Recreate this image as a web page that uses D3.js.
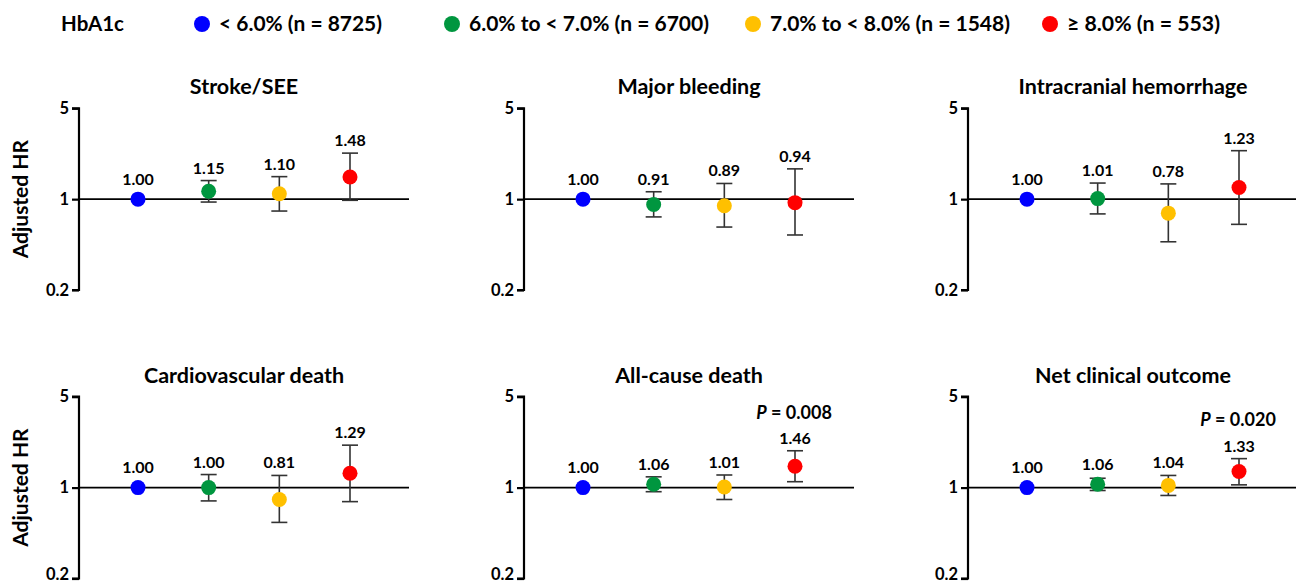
<!DOCTYPE html>
<html><head><meta charset="utf-8">
<script src="https://cdn.jsdelivr.net/npm/d3@7"></script>
<style>
body{margin:0;background:#fff;}
svg{display:block;font-family:Lato,"Open Sans",sans-serif;font-weight:700;}
</style></head>
<body><svg id="c" width="1296" height="584"></svg>
<script>
const groups = ["< 6.0% (n = 8725)", "6.0% to < 7.0% (n = 6700)", "7.0% to < 8.0% (n = 1548)", "≥ 8.0% (n = 553)"];
const colors = ["#0000FF", "#00963F", "#FFC000", "#FF0000"];
const outcomes = ["Stroke/SEE", "Major bleeding", "Intracranial hemorrhage", "Cardiovascular death", "All-cause death", "Net clinical outcome"];
const hr = [
  [1.00, 1.15, 1.10, 1.48],
  [1.00, 0.91, 0.89, 0.94],
  [1.00, 1.01, 0.78, 1.23],
  [1.00, 1.00, 0.81, 1.29],
  [1.00, 1.06, 1.01, 1.46],
  [1.00, 1.06, 1.04, 1.33]
];
const lower = [
  [null, 0.95, 0.81, 0.98],
  [null, 0.73, 0.61, 0.53],
  [null, 0.77, 0.47, 0.64],
  [null, 0.79, 0.54, 0.78],
  [null, 0.93, 0.81, 1.11],
  [null, 0.95, 0.87, 1.05]
];
const upper = [
  [null, 1.39, 1.49, 2.26],
  [null, 1.14, 1.32, 1.71],
  [null, 1.33, 1.31, 2.36],
  [null, 1.26, 1.24, 2.12],
  [null, 1.21, 1.25, 1.92],
  [null, 1.18, 1.24, 1.67]
];
const pValues = [null, null, null, null, "0.008", "0.020"];
const yTicks = [0.2, 1, 5];
const yLabel = "Adjusted HR";
const legendTitle = "HbA1c";

const svg = d3.select("#c");

// Legend
svg.append("text").attr("x", 61).attr("y", 31).attr("font-size", 20)
  .attr("textLength", 63).attr("lengthAdjust", "spacingAndGlyphs").text(legendTitle);
const legX = [202, 452, 753, 1050];
const legW = [163, 240, 240, 153];
groups.forEach((g, i) => {
  svg.append("circle").attr("cx", legX[i]).attr("cy", 24).attr("r", 8).attr("fill", colors[i]);
  svg.append("text").attr("x", legX[i] + 17).attr("y", 31).attr("font-size", 20)
    .attr("textLength", legW[i]).attr("lengthAdjust", "spacingAndGlyphs").text(g);
});

const axisXs = [79, 524, 968];
const rowTop = [108.3, 396.7];
const rowBot = [290, 578.5];

outcomes.forEach((name, p) => {
  const col = p % 3, row = Math.floor(p / 3);
  const ax = axisXs[col];
  const y = d3.scaleLog().domain([0.2, 5]).range([rowBot[row], rowTop[row]]);
  const x = d3.scalePoint().domain(groups).range([ax + 59, ax + 271]);
  const g = svg.append("g");

  // title
  g.append("text").attr("x", ax + 165).attr("y", rowTop[row] - 14).attr("text-anchor", "middle")
    .attr("font-size", 21.5).text(name);

  // y-axis
  const yAxis = d3.axisLeft(y).tickValues(yTicks).tickSize(7).tickFormat(d => String(d));
  const ag = g.append("g").attr("transform", `translate(${ax},0)`).call(yAxis);
  ag.select(".domain").attr("stroke", "#000").attr("stroke-width", 2.2).attr("d", `M-7,${rowTop[row]}H0V${rowBot[row]}H-7`);
  ag.selectAll(".tick line").attr("stroke", "#000").attr("stroke-width", 2.2);
  ag.selectAll(".tick text").attr("font-size", 16.5).attr("font-family", "Lato,'Open Sans',sans-serif").attr("font-weight", 700).attr("fill", "#000").attr("x", -10)
    .attr("dy", d => (row === 1 && d === 0.2) ? "0.05em" : "0.32em");

  // reference line at 1
  g.append("line").attr("x1", ax).attr("x2", Math.min(ax + 330, 1296)).attr("y1", y(1)).attr("y2", y(1))
    .attr("stroke", "#000").attr("stroke-width", 1.8);

  // y label
  if (col === 0) {
    g.append("text").attr("transform", `translate(28,${y(1)}) rotate(-90)`).attr("text-anchor", "middle")
      .attr("font-size", 21).text(yLabel);
  }

  groups.forEach((grp, i) => {
    const cx = x(grp);
    const lo = lower[p][i], up = upper[p][i];
    if (lo != null) {
      g.append("line").attr("x1", cx).attr("x2", cx).attr("y1", y(lo)).attr("y2", y(up))
        .attr("stroke", "#333").attr("stroke-width", 1.6);
      [lo, up].forEach(v => g.append("line").attr("x1", cx - 8).attr("x2", cx + 8).attr("y1", y(v)).attr("y2", y(v))
        .attr("stroke", "#333").attr("stroke-width", 1.6));
    }
    g.append("circle").attr("cx", cx).attr("cy", y(hr[p][i])).attr("r", 7.5).attr("fill", colors[i]);
    const topY = Math.min(y(hr[p][i]) - 7.5, up != null ? y(up) : Infinity);
    g.append("text").attr("x", cx).attr("y", topY - 7).attr("text-anchor", "middle").attr("font-size", 16)
      .text(hr[p][i].toFixed(2));
  });

  if (pValues[p]) {
    const t = g.append("text").attr("x", ax + 270).attr("y", rowTop[row] + 22 + (col === 2 ? 7 : 0)).attr("text-anchor", "middle").attr("font-size", 18);
    t.append("tspan").attr("font-style", "italic").text("P");
    t.append("tspan").text(" = " + pValues[p]);
  }
});
</script></body></html>
